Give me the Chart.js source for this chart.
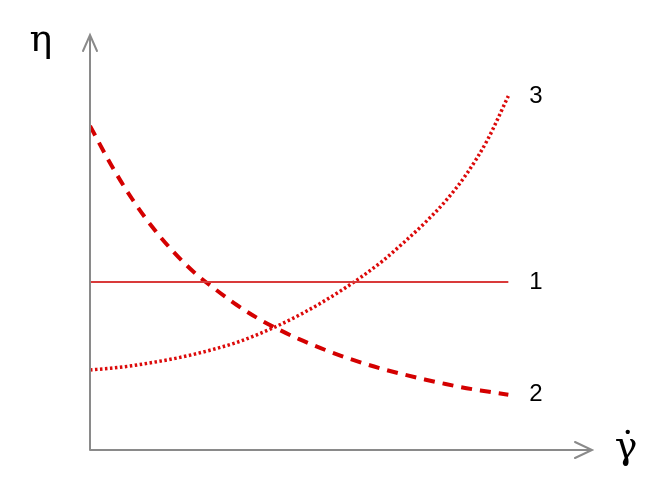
<!DOCTYPE html>
<html>
<head>
<meta charset="utf-8">
<script src="https://cdn.jsdelivr.net/npm/chart.js@4.4.1/dist/chart.umd.min.js"></script>
<style>
  html, body { margin: 0; padding: 0; background: #fff; }
  #wrap { width: 665px; height: 495px; }
</style>
</head>
<body>
<div id="wrap"><canvas id="viscChart" width="665" height="495"></canvas></div>
<script>
// shear rate (x) and viscosity (y)
const shearRate = [0, 0.5, 1, 1.5, 2, 2.5, 3, 3.5, 4, 4.5, 5, 5.5, 6, 6.5, 7, 7.5, 8, 8.5, 9, 9.5, 10];
const newtonian = [4.05, 4.05, 4.05, 4.05, 4.05, 4.05, 4.05, 4.05, 4.05, 4.05, 4.05, 4.05, 4.05, 4.05, 4.05, 4.05, 4.05, 4.05, 4.05, 4.05, 4.05];
const thinning = [7.81, 6.88, 6.06, 5.36, 4.77, 4.27, 3.87, 3.50, 3.18, 2.91, 2.67, 2.46, 2.27, 2.10, 1.95, 1.82, 1.70, 1.59, 1.49, 1.41, 1.33];
const thickening = [1.93, 1.97, 2.03, 2.11, 2.20, 2.31, 2.44, 2.59, 2.78, 3.00, 3.25, 3.53, 3.84, 4.18, 4.56, 5.00, 5.47, 6.00, 6.65, 7.47, 8.53];
const curveLabels = ['1', '2', '3'];
const axisNames = ['\u03B7', '\u03B3\u0307'];

const toPoints = ys => shearRate.map((x, i) => ({ x: x, y: ys[i] }));

//========================
// axes, arrows and labels
//========================
const sketchPlugin = {
  id: 'sketch',
  afterDatasetsDraw(chart) {
    const ctx = chart.ctx;
    const xs = chart.scales.x;
    const ys = chart.scales.y;
    const x0 = xs.getPixelForValue(0);
    const y0 = ys.getPixelForValue(0);
    const xEnd = xs.getPixelForValue(xs.max);
    const yTop = ys.getPixelForValue(ys.max);

    ctx.save();
    ctx.strokeStyle = '#8a8a8a';
    ctx.lineWidth = 2;
    ctx.lineCap = 'round';
    ctx.beginPath();
    ctx.moveTo(x0, y0);
    ctx.lineTo(x0, yTop);
    ctx.moveTo(x0 - 7, yTop + 16);
    ctx.lineTo(x0, yTop);
    ctx.lineTo(x0 + 7, yTop + 16);
    ctx.moveTo(x0, y0);
    ctx.lineTo(xEnd, y0);
    ctx.moveTo(xEnd - 17, y0 - 8);
    ctx.lineTo(xEnd, y0);
    ctx.lineTo(xEnd - 17, y0 + 8);
    ctx.stroke();

    ctx.fillStyle = '#000';
    ctx.textAlign = 'center';
    ctx.textBaseline = 'middle';
    ctx.font = '38px "DejaVu Serif", "Liberation Serif", serif';
    ctx.fillText(axisNames[0], x0 - 49, yTop + 6);
    ctx.fillText(axisNames[1], xEnd + 34, y0 - 2);

    ctx.font = '24px "Liberation Sans", Arial, sans-serif';
    ctx.textAlign = 'left';
    chart.data.datasets.forEach((ds, i) => {
      const pts = chart.getDatasetMeta(i).data;
      const last = pts[pts.length - 1];
      ctx.fillText(curveLabels[i], last.x + 21, last.y);
    });
    ctx.restore();
  }
};

new Chart(document.getElementById('viscChart'), {
  type: 'line',
  data: {
    datasets: [
      {
        data: toPoints(newtonian),
        borderColor: '#d93a3a',
        borderWidth: 2
      },
      {
        data: toPoints(thinning),
        borderColor: '#d40000',
        borderWidth: 4,
        borderDash: [11, 8],
        cubicInterpolationMode: 'monotone'
      },
      {
        data: toPoints(thickening),
        borderColor: '#dc0a0a',
        borderWidth: 3.5,
        borderDash: [2.5, 2.5],
        cubicInterpolationMode: 'monotone'
      }
    ]
  },
  options: {
    responsive: false,
    animation: false,
    devicePixelRatio: 1,
    layout: { padding: { left: 90, right: 73, top: 35, bottom: 45 } },
    elements: { point: { radius: 0 } },
    plugins: { legend: { display: false }, tooltip: { enabled: false } },
    scales: {
      x: { type: 'linear', min: 0, max: 12, display: false },
      y: { type: 'linear', min: 0, max: 10, display: false }
    }
  },
  plugins: [sketchPlugin]
});
</script>
</body>
</html>
